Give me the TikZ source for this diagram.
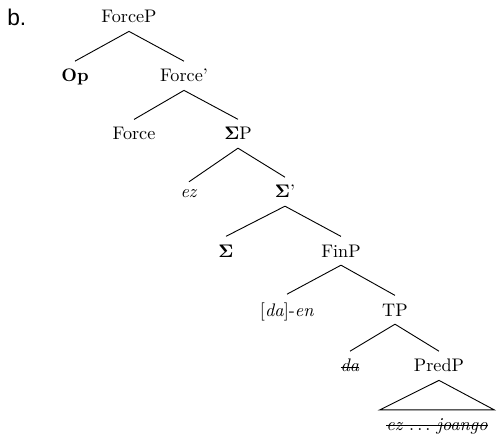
\documentclass[tikz,border=0pt]{standalone}
\usepackage[no-math]{fontspec}
\usepackage{amsmath}
\usepackage{tikz}
\usetikzlibrary{positioning,calc}
\newfontfamily\labelsans{Liberation Sans}
\newcommand{\strk}[1]{\leavevmode\setbox0\hbox{#1}\rlap{\rule[0.5ex]{\wd0}{0.4pt}}\box0}

\begin{document}
\begin{tikzpicture}[
  x=0.55pt, y=-0.55pt,
  font=\normalsize,
  cat/.style={inner sep=4.3pt, anchor=base},
  branch/.style={draw=black, line width=0.5pt},
  roofline/.style={draw=black, line width=0.5pt, line join=miter}
]
\useasboundingbox (0,0) rectangle (498,438);
\node[inner sep=0pt, anchor=base west, font=\labelsans\fontsize{12.5}{14}\selectfont] (tag) at (7,26) {b.};
% labelled nodes of the tree
\node[cat] (forcep) at (129,23) {ForceP};
\node[cat] (op) at (75,82) {\textbf{Op}};
\node[cat] (forcebar) at (184,82) {Force'};
\node[cat] (force) at (134,140) {Force};
\node[cat] (sigmap) at (238,140) {$\mathbf{\Sigma}$P};
\node[cat] (ez) at (189,198) {\textit{ez}};
\node[cat] (sigmabar) at (285,198) {$\mathbf{\Sigma}$'};
\node[cat] (sigma) at (226,257) {$\mathbf{\Sigma}$};
\node[cat] (finp) at (341,257) {FinP};
\node[cat] (daen) at (287,316) {[\textit{da}]-\textit{en}};
\node[cat] (tp) at (395,316) {TP};
\node[cat] (da) at (350,372) {\strk{\textit{da}}};
\node[cat] (predp) at (439,372) {PredP};
\node[cat, inner xsep=3.5pt] (roof) at (437,430) {\strk{\textit{ez} $\ldots$ \textit{joango}}};
% branches
\draw[branch] (forcep.south) -- (op.north);
\draw[branch] (forcep.south) -- (forcebar.north);
\draw[branch] (forcebar.south) -- (force.north);
\draw[branch] (forcebar.south) -- (sigmap.north);
\draw[branch] (sigmap.south) -- (ez.north);
\draw[branch] (sigmap.south) -- (sigmabar.north);
\draw[branch] (sigmabar.south) -- (sigma.north);
\draw[branch] (sigmabar.south) -- (finp.north);
\draw[branch] (finp.south) -- (daen.north);
\draw[branch] (finp.south) -- (tp.north);
\draw[branch] (tp.south) -- (da.north);
\draw[branch] (tp.south) -- (predp.north);
\draw[roofline] (predp.south) -- (roof.north west) -- (roof.north east) -- cycle;
\end{tikzpicture}
\end{document}
